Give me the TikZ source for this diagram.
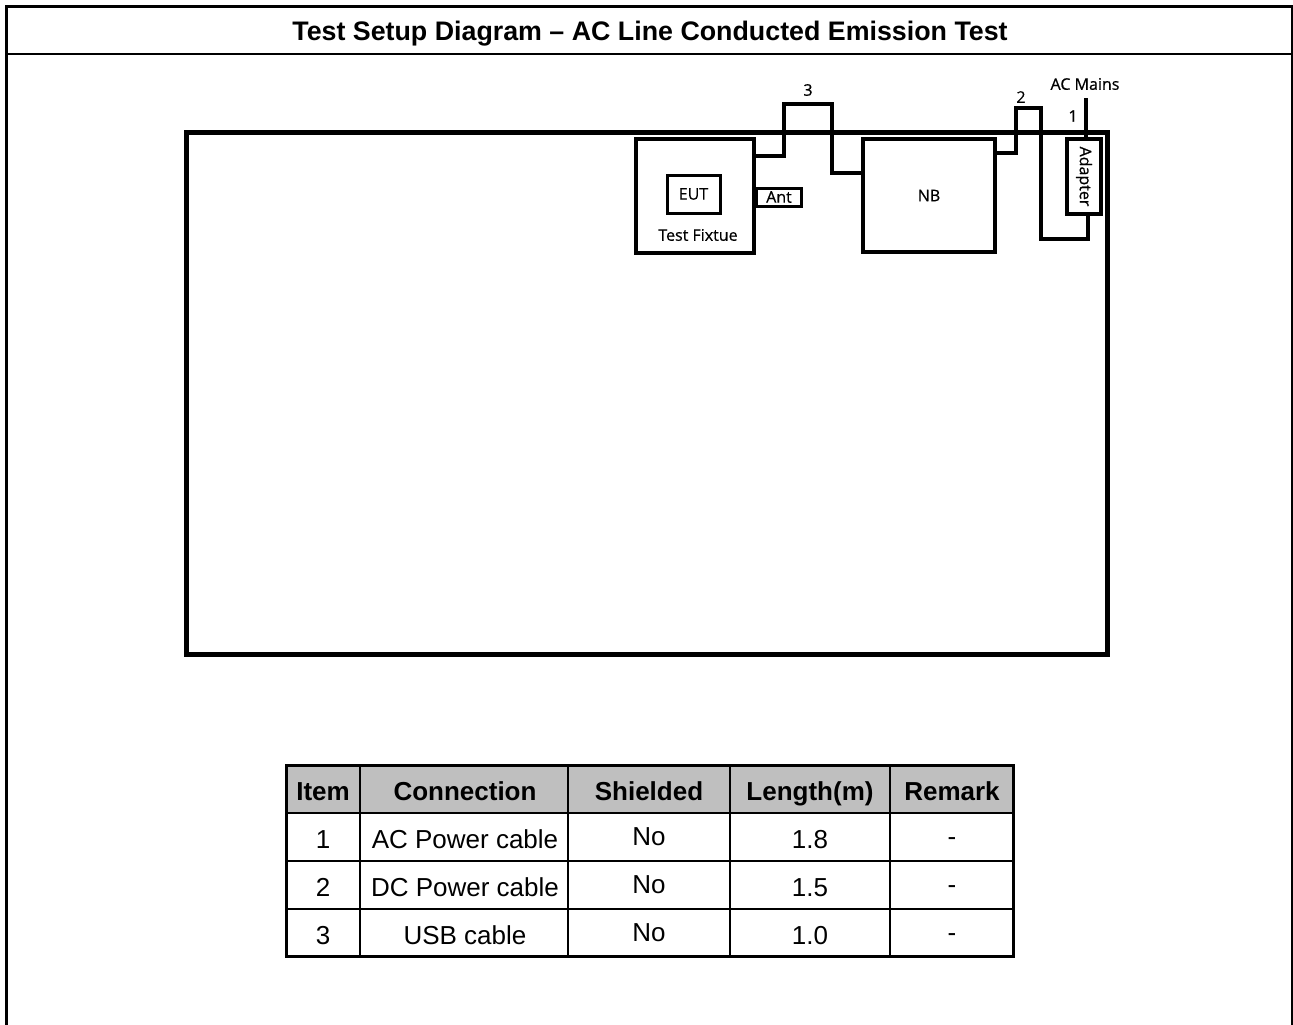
\documentclass[tikz,border=0pt]{standalone}
\usepackage{fontspec}
\setmainfont{Liberation Sans}
\newfontfamily\lblfont[FakeBold=0.6]{Open Sans}
\begin{document}
\begin{tikzpicture}[x=1pt,y=-1pt,
  box/.style={draw,line width=3.5pt,inner sep=0pt,outer sep=0pt,font=\lblfont\fontsize{16}{18}\selectfont},
  cable/.style={line width=3.5pt,line join=miter},
  lbl/.style={inner sep=0pt,font=\lblfont\fontsize{16}{18}\selectfont},
  hdr/.style={inner sep=0pt,anchor=base,font=\bfseries\fontsize{26}{30}\selectfont},
  cell/.style={inner sep=0pt,anchor=base,font=\fontsize{26}{30}\selectfont},
  tline/.style={line width=2pt}]
\useasboundingbox (0,0) rectangle (1293,1025);
% outer frame
\draw[line width=3pt] (6.5,1025) -- (6.5,6.5) -- (1292,6.5) -- (1292,1025);
\draw[line width=2pt] (6.5,54.5) -- (1292,54.5);
\node[inner sep=0pt,anchor=base,font=\bfseries\fontsize{26.8}{30}\selectfont] (title) at (650,41) {Test Setup Diagram – AC Line Conducted Emission Test};
% ground plane
\node[draw,line width=5pt,inner sep=0pt,outer sep=0pt,minimum width=921pt,minimum height=522pt] (plane) at (647,393) {};
% equipment
\node[box,minimum width=118pt,minimum height=114pt] (fix) at (695,196) {};
\node[box,line width=3pt,minimum width=53pt,minimum height=38pt] (eut) at (693.5,194) {EUT};
\node[lbl] (fixlbl) at (698,235) {Test Fixtue};
\node[box,line width=3pt,minimum width=45pt,minimum height=18pt] (ant) at (779,197) {Ant};
\node[box,minimum width=132pt,minimum height=113pt] (nb) at (929,195.5) {NB};
\node[box,minimum width=34pt,minimum height=75pt] (adp) at (1084,176.5) {};
\node[lbl,rotate=-90] (adplbl) at (adp.center) {Adapter};
% cable 3 (USB)
\coordinate (c3a) at (784,104);
\coordinate (c3b) at (832,104);
\draw[cable] ([yshift=-17pt]fix.north east) -| (c3a) -- (c3b) |- ([yshift=-34pt]nb.north west);
\node[lbl] (n3) at (808,90) {3};
% cable 2 (DC)
\coordinate (c2a) at (1016,108);
\coordinate (c2b) at (1041,108);
\coordinate (c2c) at (1088,239);
\draw[cable] ([yshift=-14pt]nb.north east) -| (c2a) -- (c2b) |- (c2c) -- ([xshift=4pt]adp.south);
\node[lbl] (n2) at (1021,97) {2};
% cable 1 (AC)
\coordinate (acm) at (1086,98);
\draw[cable] ([xshift=2pt]adp.north) -- (acm);
\node[lbl] (aclbl) at (1085,84) {AC Mains};
\node[lbl] (n1) at (1073,116) {1};
% table
\fill[gray!50] (286,765) rectangle (1013,813);
\foreach \x in {360,568,730,890} \draw[tline] (\x,765) -- (\x,956);
\foreach \y in {813,861,909} \draw[tline] (286,\y) -- (1013,\y);
\draw[line width=3pt] (286,765) rectangle (1013,956);
\node[hdr] (h1) at (323,800) {Item};
\node[hdr] (h2) at (465,800) {Connection};
\node[hdr] (h3) at (649,800) {Shielded};
\node[hdr] (h4) at (810,800) {Length(m)};
\node[hdr] (h5) at (952,800) {Remark};
\node[cell] (r1c1) at (323,848) {1};
\node[cell] (r1c2) at (465,848) {AC Power cable};
\node[cell] (r1c3) at (649,845) {No};
\node[cell] (r1c4) at (810,848) {1.8};
\node[cell] (r1c5) at (952,845) {-};
\node[cell] (r2c1) at (323,896) {2};
\node[cell] (r2c2) at (465,896) {DC Power cable};
\node[cell] (r2c3) at (649,893) {No};
\node[cell] (r2c4) at (810,896) {1.5};
\node[cell] (r2c5) at (952,893) {-};
\node[cell] (r3c1) at (323,944) {3};
\node[cell] (r3c2) at (465,944) {USB cable};
\node[cell] (r3c3) at (649,941) {No};
\node[cell] (r3c4) at (810,944) {1.0};
\node[cell] (r3c5) at (952,941) {-};
\end{tikzpicture}
\end{document}
